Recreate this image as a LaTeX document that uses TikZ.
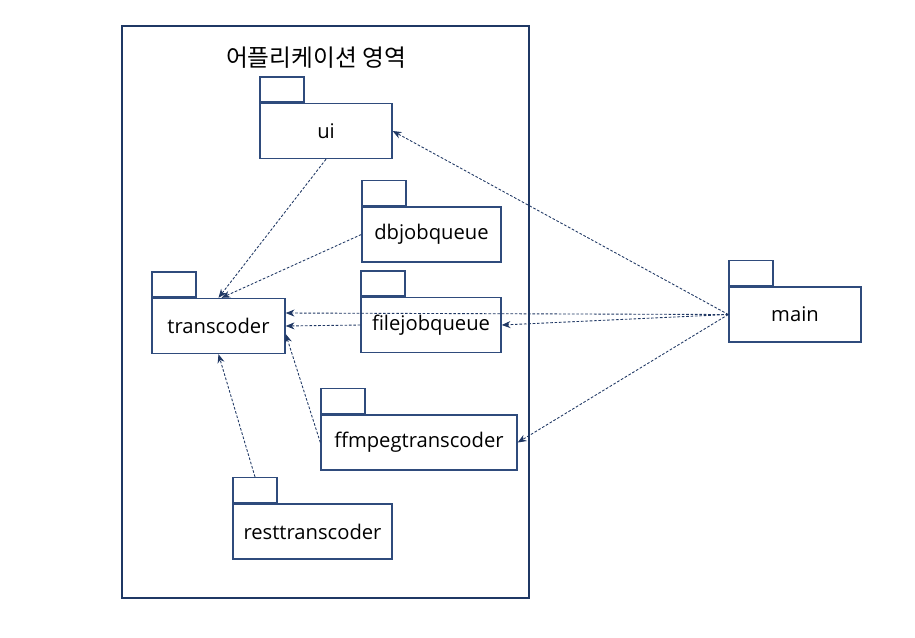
\documentclass[tikz,border=0pt]{standalone}
\usepackage{fontspec}
\setmainfont{Open Sans}
\newfontfamily\korfont{Noto Sans CJK KR}
\usetikzlibrary{arrows.meta}
\definecolor{pkgblue}{HTML}{2F4B7C}
\definecolor{areablue}{HTML}{1F3864}
\definecolor{depblue}{HTML}{203864}
\tikzset{
  pkg/.style={
    draw=pkgblue, line width=0.8pt, fill=white,
    minimum height=1.1cm, minimum width=#1, inner sep=0pt,
    font=\fontsize{11.5}{14}\selectfont
  },
  pkg tab/.style={
    draw=pkgblue, line width=0.8pt,
    minimum width=0.88cm, minimum height=0.5cm, inner sep=0pt,
    anchor=south west
  },
  dep/.style={
    draw=depblue, line width=0.5pt, dash pattern=on 1.5pt off 1pt
  }
}

\begin{document}
\begin{tikzpicture}[x=0.02cm, y=-0.02cm]
        \useasboundingbox (0,0) rectangle (915,637);
        \node[draw=areablue, line width=0.7pt, minimum width=8.14cm, minimum height=11.44cm, inner sep=0pt] (area) at (325.5,312) {};
        \node[font=\korfont\fontsize{13.5}{16}\selectfont] (title) at (316,58) {어플리케이션 영역};

        \begin{scope}[every node/.style={pkg=2.64cm}]
            \node (ui)   at (326,131)     {ui};
            \node[minimum width=2.78cm] (dbq)  at (431.5,234.5) {dbjobqueue};
            \node[minimum width=2.66cm] (tc)   at (218.5,326)   {transcoder};
            \node[minimum width=2.80cm] (fjq)  at (431,325)     {filejobqueue};
            \node[minimum width=3.92cm] (ffm)  at (419,442.5)   {ffmpegtranscoder};
            \node[minimum width=3.18cm] (rest) at (312.5,531.5) {resttranscoder};
            \node (main) at (795,314.5)   {main};
        \end{scope}
        \begin{scope}[every node/.style={pkg tab}]
            \node (uiT)   at (ui.north west)   {};
            \node (dbqT)  at (dbq.north west)  {};
            \node (tcT)   at (tc.north west)   {};
            \node (fjqT)  at (fjq.north west)  {};
            \node (ffmT)  at (ffm.north west)  {};
            \node (restT) at (rest.north west) {};
            \node (mainT) at (main.north west) {};
        \end{scope}

        \begin{scope}[>={Stealth[length=5pt,width=4pt]}, every edge/.style={dep}]
            \path [->] (ui.south) edge (tc.north);
            \path [->] (dbq.west) edge ([xshift=0.06cm]tc.north);
            \path [->] (fjq.west) edge (tc.east);
            \path [->] (ffm.west) edge ([yshift=-0.16cm]tc.east);
            \path [->] (restT.north) edge (tc.south);

            \path [->] (main.west) edge ([yshift=0.26cm]tc.east);
            \path [->] (main.west) edge (fjq.east);
            \path [->] (main.west) edge (ui.east);
            \path [->] (main.west) edge (ffm.east);
        \end{scope}
    \end{tikzpicture}
\end{document}
